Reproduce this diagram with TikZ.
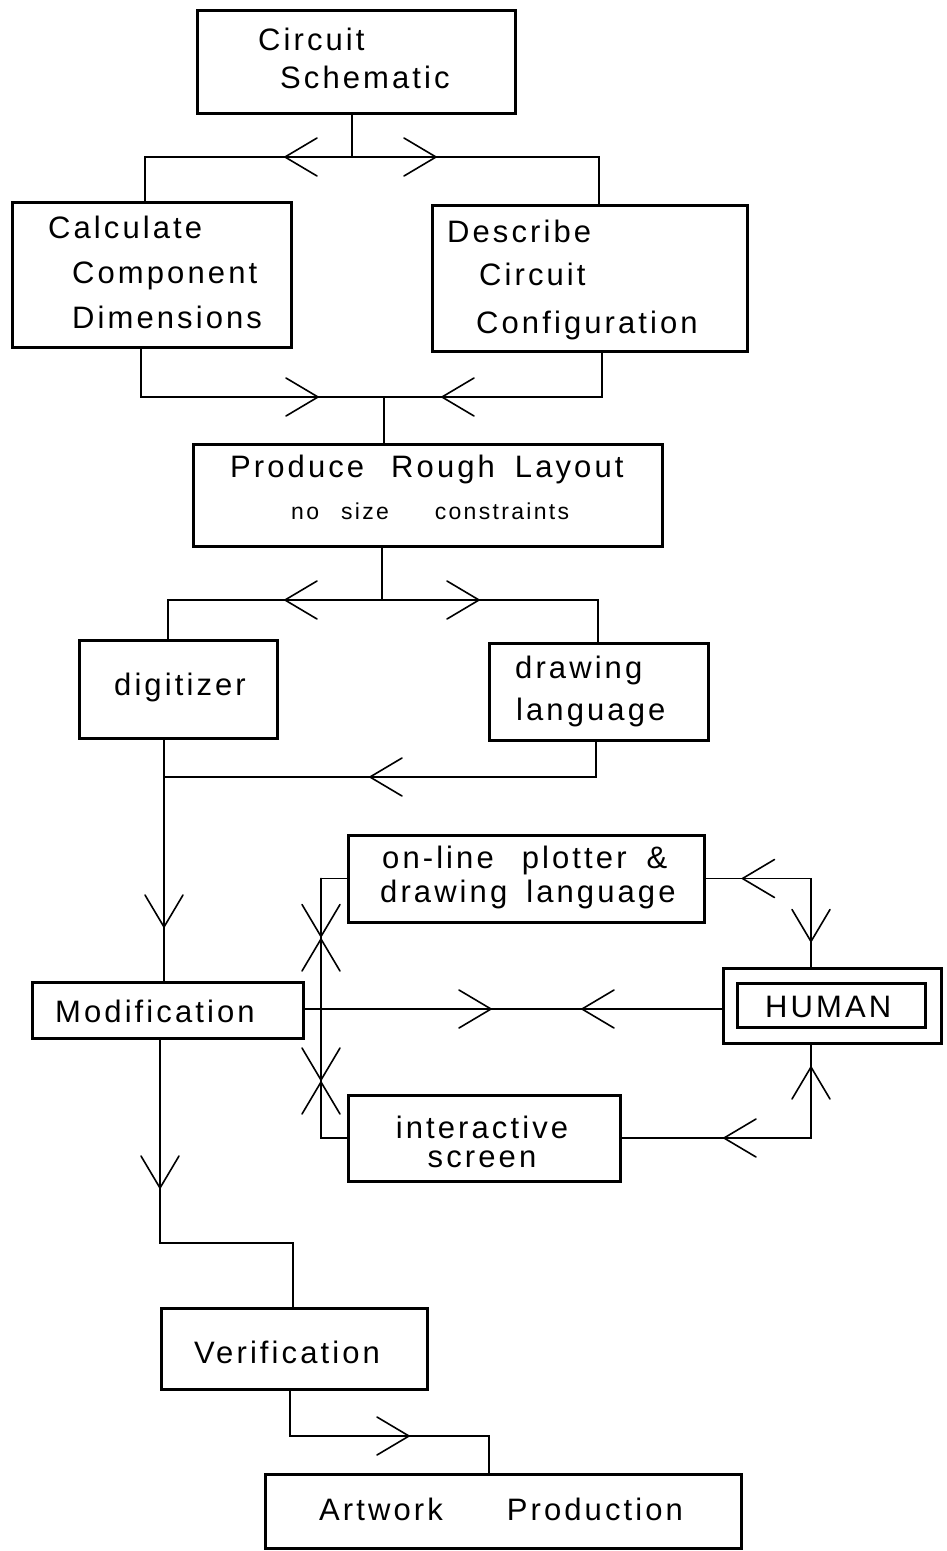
\documentclass[tikz,border=0pt]{standalone}
\usepackage{fontspec}
\setmainfont{Liberation Sans}[LetterSpace=10,Ligatures=NoCommon]
\usetikzlibrary{decorations.markings}

% box given by its corners (x1,y1) and (x2,y2)
\newcommand{\cornerbox}[5]{%
  \node[box, minimum width={(#4)-(#2)}, minimum height={(#5)-(#3)}]
    (#1) at ({((#2)+(#4))/2},{((#3)+(#5))/2}) {};}

\begin{document}
\begin{tikzpicture}[x=1pt,y=-1pt,
  box/.style={draw, line width=3pt, inner sep=0pt, outer sep=0pt},
  wire/.style={line width=1.6pt, line cap=round, line join=miter},
  lbl/.style={anchor=base west, inner sep=0pt, font=\fontsize{31}{29}\selectfont},
  small/.style={lbl, font=\fontsize{23}{27}\selectfont},
  arr/.style={postaction={decorate}, decoration={markings,
    mark=at position #1 with {\draw[line width=1.6pt, line cap=round]
      (-32pt,19pt) -- (0pt,0pt) -- (-32pt,-19pt);}}}]

\useasboundingbox[fill=white] (0,0) rectangle (946,1551);

% boxes
\cornerbox{cs}{197}{10}{515}{113}
\cornerbox{calc}{12}{202}{291}{347}
\cornerbox{desc}{432}{205}{747}{351}
\cornerbox{prl}{193}{444}{662}{546}
\cornerbox{dig}{79}{640}{277}{738}
\cornerbox{dl}{489}{643}{708}{740}
\cornerbox{olp}{348}{835}{704}{922}
\cornerbox{mod}{32}{982}{303}{1038}
\cornerbox{hum}{723}{968}{941}{1043}
\cornerbox{humin}{737}{983}{925}{1027}
\cornerbox{isc}{348}{1095}{620}{1181}
\cornerbox{ver}{161}{1308}{427}{1389}
\cornerbox{art}{265}{1474}{741}{1548}

% labels
\node[lbl] (t-cs1) at (258,50) {Circuit};
\node[lbl] (t-cs2) at (280,88) {Schematic};
\node[lbl] (t-calc1) at (48,238) {Calculate};
\node[lbl] (t-calc2) at (72,283) {Component};
\node[lbl] (t-calc3) at (72,328) {Dimensions};
\node[lbl] (t-desc1) at (447,242) {Describe};
\node[lbl] (t-desc2) at (479,285) {Circuit};
\node[lbl] (t-desc3) at (476,333) {Configuration};
\node[lbl] (t-prl1) at (230,477) {Produce\hspace{27pt}Rough\hspace{20pt}Layout};
\node[small] (t-prl2) at (291,519) {no\hspace{22pt}size\hspace{46pt}constraints};
\node[lbl] (t-dig) at (114,695) {digitizer};
\node[lbl] (t-dl1) at (515,678) {drawing};
\node[lbl] (t-dl2) at (516,720) {language};
\node[lbl] (t-olp1) at (382,868) {on-line\hspace{28pt}plotter\hspace{20pt}\&};
\node[lbl] (t-olp2) at (380,902) {drawing\hspace{19pt}language};
\node[lbl] (t-mod) at (55,1022) {Modification};
\node[lbl] (t-hum) at (765,1017) {HUMAN};
\node[lbl, anchor=base, align=center] (t-isc) at (482,1167) {interactive\\screen};
\node[lbl] (t-ver) at (194,1363) {Verification};
\node[lbl] (t-art) at (319,1520) {Artwork\hspace{64pt}Production};

% junction points
\coordinate (j1) at (352,157);
\coordinate (jl1) at (145,157);
\coordinate (jr1) at (599,157);
\coordinate (ml) at (141,397);
\coordinate (mr) at (602,397);
\coordinate (j2) at (384,397);
\coordinate (j3) at (382,600);
\coordinate (jl3) at (168,600);
\coordinate (jr3) at (598,600);
\coordinate (jr4) at (596,777);
\coordinate (jl4) at (164,777);
\coordinate (bx) at (321,1009);
\coordinate (mh) at (536,1009);
\coordinate (hx) at (811,1009);
\coordinate (m1) at (160,1243);
\coordinate (m2) at (293,1243);
\coordinate (v1) at (290,1436);
\coordinate (v2) at (489,1436);

% schematic splits into the two preparation steps
\draw[wire] (cs.south -| j1) -- (j1);
\draw[wire, arr=67pt] (j1) -- (jl1) -- (calc.north -| jl1);
\draw[wire, arr=84pt] (j1) -- (jr1) -- (desc.north -| jr1);

% both feed the rough layout
\draw[wire, arr=227pt] (calc.south -| ml) -- (ml) -- (j2);
\draw[wire, arr=206pt] (desc.south -| mr) -- (mr) -- (j2);
\draw[wire] (j2) -- (prl.north -| j2);

% entry methods
\draw[wire] (prl.south -| j3) -- (j3);
\draw[wire, arr=97pt] (j3) -- (jl3) -- (dig.north -| jl3);
\draw[wire, arr=97pt] (j3) -- (jr3) -- (dl.north -| jr3);
\draw[wire, arr=263pt] (dl.south -| jr4) -- (jr4) -- (jl4);
\draw[wire, arr=189pt] (dig.south -| jl4) -- (mod.north -| jl4);

% modification loop with the human
\draw[wire, arr=188pt] (mod.east |- bx) -- (mh);
\draw[wire, arr=141pt] (hum.west |- bx) -- (mh);

\draw[wire, arr=85pt] (olp.west) -- (olp.west -| bx) -- (bx);
\draw[wire, arr=70pt] (bx) -- (olp.west -| bx);
\draw[wire, arr=83pt] (isc.west) -- (isc.west -| bx) -- (bx);
\draw[wire, arr=71pt] (bx) -- (isc.west -| bx);

\draw[wire, arr=158pt] (hum.north -| hx) -- (olp.east -| hx) -- (olp.east);
\draw[wire, arr=170pt] (olp.east) -- (olp.east -| hx) -- (hum.north -| hx);
\draw[wire, arr=182pt] (hum.south -| hx) -- (isc.east -| hx) -- (isc.east);
\draw[wire, arr=262pt] (isc.east) -- (isc.east -| hx) -- (hum.south -| hx);

% verification and artwork
\draw[wire, arr=150pt] (mod.south -| m1) -- (m1) -- (m2) -- (ver.north -| m2);
\draw[wire, arr=166pt] (ver.south -| v1) -- (v1) -- (v2) -- (art.north -| v2);

\end{tikzpicture}
\end{document}
